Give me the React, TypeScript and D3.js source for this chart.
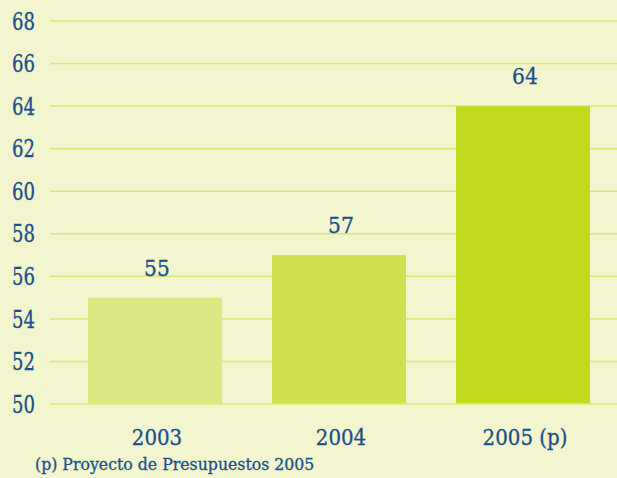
import React from 'react'
import * as d3 from 'd3'

// chart data
const years = ['2003', '2004', '2005 (p)']
const values = [55, 57, 64]
const barColors = ['#dce784', '#d0e04f', '#c2d920']
const yTicks = [50, 52, 54, 56, 58, 60, 62, 64, 66, 68]
const footnote = '(p) Proyecto de Presupuestos 2005'

const W = 617
const H = 478
const textColor = '#1b4e8e'
const font = '"DejaVu Serif Condensed", "DejaVu Serif", serif'

const App = () => {
  // scales
  const yScale = d3.scaleLinear().domain([50, 68]).range([404, 21])
  const xScale = d3.scaleBand()
    .domain(years)
    .range([63, 615])
    .paddingInner(0.2717)
    .paddingOuter(0.1359)

  const textProps = {
    fill: textColor,
    fontFamily: font,
    fontStretch: 'condensed',
    stroke: textColor,
    strokeWidth: 0.3,
  }

  return (
    <svg
      width={W}
      height={H}
      style={{ position: 'absolute', left: 0, top: 0, display: 'block' }}
    >
      <rect x={0} y={0} width={W} height={H} fill="#f2f5cd" />

      {/* grid lines */}
      {yTicks.map(t => (
        <line
          key={'g' + t}
          x1={50}
          x2={W}
          y1={yScale(t)}
          y2={yScale(t)}
          stroke="#d9e777"
          strokeWidth={1.5}
        />
      ))}

      {/* y labels */}
      {yTicks.map(t => (
        <text
          key={'y' + t}
          x={12}
          y={yScale(t)}
          dy="0.36em"
          textLength={23}
          lengthAdjust="spacingAndGlyphs"
          fontSize={24}
          {...textProps}
        >
          {t}
        </text>
      ))}

      {/* bars */}
      {years.map((yr, i) => (
        <rect
          key={'b' + yr}
          x={xScale(yr)}
          y={yScale(values[i])}
          width={xScale.bandwidth()}
          height={yScale(50) - yScale(values[i]) - 0.75}
          fill={barColors[i]}
        />
      ))}

      {/* value labels */}
      {years.map((yr, i) => (
        <text
          key={'v' + yr}
          x={(xScale(yr) as number) + xScale.bandwidth() / 2 + 2}
          y={yScale(values[i]) - 22}
          textAnchor="middle"
          fontSize={22.5}
          {...textProps}
        >
          {values[i]}
        </text>
      ))}

      {/* x labels */}
      {years.map(yr => (
        <text
          key={'x' + yr}
          x={(xScale(yr) as number) + xScale.bandwidth() / 2 + 2}
          y={445}
          textAnchor="middle"
          fontSize={22}
          {...textProps}
        >
          {yr}
        </text>
      ))}

      <text x={35} y={470} fontSize={17.5} {...textProps}>
        {footnote}
      </text>
    </svg>
  )
}

export default App
